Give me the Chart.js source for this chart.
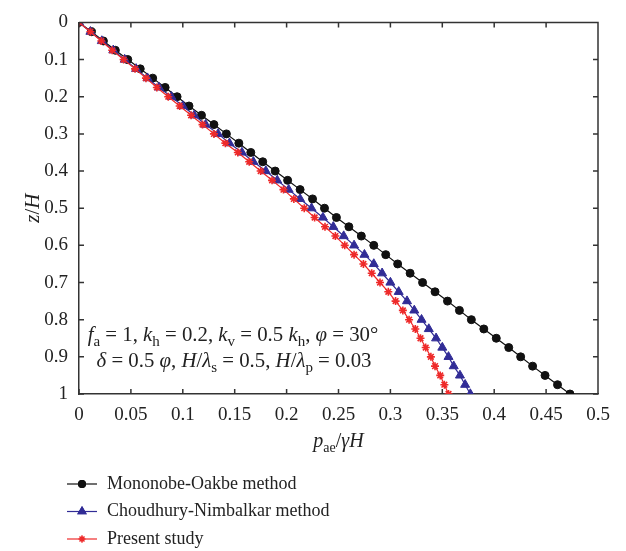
<!DOCTYPE html>
<html>
<head>
<meta charset="utf-8">
<script src="https://cdn.jsdelivr.net/npm/chart.js@4.4.0/dist/chart.umd.min.js"></script>
<style>
  html, body { margin: 0; padding: 0; background: #fff; }
</style>
</head>
<body>
<canvas id="chart" width="626" height="551"></canvas>
<script>
// depth ratio z/H
const depths = [0, 0.025, 0.05, 0.075, 0.1, 0.125, 0.15, 0.175, 0.2, 0.225,
  0.25, 0.275, 0.3, 0.325, 0.35, 0.375, 0.4, 0.425, 0.45, 0.475,
  0.5, 0.525, 0.55, 0.575, 0.6, 0.625, 0.65, 0.675, 0.7, 0.725,
  0.75, 0.775, 0.8, 0.825, 0.85, 0.875, 0.9, 0.925, 0.95, 0.975, 1];

// p_ae / gamma H
const mononobeOkabe = [0, 0.012, 0.0235, 0.035, 0.047, 0.059, 0.071, 0.083, 0.0945, 0.106,
  0.118, 0.130, 0.142, 0.154, 0.1655, 0.177, 0.189, 0.201, 0.213, 0.225,
  0.2365, 0.248, 0.260, 0.272, 0.284, 0.2955, 0.307, 0.319, 0.331, 0.343,
  0.355, 0.3665, 0.378, 0.390, 0.402, 0.414, 0.4255, 0.437, 0.449, 0.461, 0.473];
const choudhuryNimbalkar = [0, 0.011, 0.022, 0.033, 0.044, 0.055, 0.066, 0.077, 0.089, 0.100,
  0.111, 0.122, 0.134, 0.145, 0.157, 0.168, 0.180, 0.191, 0.202, 0.213,
  0.224, 0.235, 0.245, 0.255, 0.265, 0.275, 0.284, 0.292, 0.300, 0.308,
  0.316, 0.323, 0.330, 0.337, 0.344, 0.350, 0.356, 0.361, 0.367, 0.372, 0.377];
const presentStudy = [0, 0.011, 0.0215, 0.032, 0.043, 0.054, 0.0645, 0.075, 0.086, 0.097,
  0.108, 0.119, 0.130, 0.141, 0.153, 0.164, 0.175, 0.186, 0.197, 0.207,
  0.217, 0.227, 0.237, 0.247, 0.256, 0.265, 0.274, 0.282, 0.290, 0.298,
  0.305, 0.312, 0.318, 0.324, 0.329, 0.334, 0.339, 0.343, 0.348, 0.352, 0.356];

const xTicks = [0, 0.05, 0.1, 0.15, 0.2, 0.25, 0.3, 0.35, 0.4, 0.45, 0.5];
const yTicks = [0, 0.1, 0.2, 0.3, 0.4, 0.5, 0.6, 0.7, 0.8, 0.9, 1];
const seriesNames = ['Mononobe-Oakbe method', 'Choudhury-Nimbalkar method', 'Present study'];

const FONT = '"Liberation Serif", "DejaVu Serif", serif';
const AXIS = '#333';

function series(vals, name, color, style, radius, order) {
  return {
    label: name,
    data: depths.map((z, i) => ({ x: vals[i], y: z })),
    borderColor: color,
    backgroundColor: color,
    borderWidth: 1.2,
    pointStyle: style,
    pointRadius: radius,
    pointBorderWidth: style === 'star' ? 1.6 : 1,
    pointBorderColor: color,
    pointBackgroundColor: color,
    tension: 0,
    order: order
  };
}

const datasets = [
  series(mononobeOkabe, seriesNames[0], '#111111', 'circle', 4, 3),
  series(choudhuryNimbalkar, seriesNames[1], '#312c96', 'triangle', 5.2, 2),
  series(presentStudy, seriesNames[2], '#ee2a2a', 'star', 4, 1)
];

// text with italic/subscript pieces: [text, 'n'|'i'|'s']
function fontFor(kind, size) {
  if (kind === 'i') return 'italic ' + size + 'px ' + FONT;
  if (kind === 's') return Math.round(size * 0.72) + 'px ' + FONT;
  return size + 'px ' + FONT;
}
function richWidth(ctx, parts, size) {
  let w = 0;
  parts.forEach(p => {
    ctx.font = fontFor(p[1], size);
    w += ctx.measureText(p[0]).width;
  });
  return w;
}
function drawRich(ctx, parts, cx, cy, size) {
  let x = cx - richWidth(ctx, parts, size) / 2;
  ctx.textBaseline = 'middle';
  ctx.textAlign = 'left';
  parts.forEach(p => {
    ctx.font = fontFor(p[1], size);
    ctx.fillText(p[0], x, p[1] === 's' ? cy + size * 0.3 : cy);
    x += ctx.measureText(p[0]).width;
  });
}

const framePlugin = {
  id: 'frame',
  afterDraw(chart) {
    const ctx = chart.ctx;
    const a = chart.chartArea;
    const xs = chart.scales.x, ys = chart.scales.y;
    ctx.save();
    ctx.strokeStyle = AXIS;
    ctx.lineWidth = 1.5;
    ctx.beginPath();
    ctx.moveTo(a.left, a.top); ctx.lineTo(a.right, a.top); ctx.lineTo(a.right, a.bottom);
    xTicks.forEach(v => {
      const px = xs.getPixelForValue(v);
      ctx.moveTo(px, a.bottom); ctx.lineTo(px, a.bottom - 5);
      ctx.moveTo(px, a.top); ctx.lineTo(px, a.top + 5);
    });
    yTicks.forEach(v => {
      const py = ys.getPixelForValue(v);
      ctx.moveTo(a.left, py); ctx.lineTo(a.left + 5, py);
      ctx.moveTo(a.right, py); ctx.lineTo(a.right - 5, py);
    });
    ctx.stroke();

    ctx.fillStyle = '#222';
    // parameter note
    drawRich(ctx, [['f', 'i'], ['a', 's'], [' = 1, ', 'n'], ['k', 'i'], ['h', 's'], [' = 0.2, ', 'n'],
      ['k', 'i'], ['v', 's'], [' = 0.5 ', 'n'], ['k', 'i'], ['h', 's'], [', ', 'n'], ['φ', 'i'], [' = 30°', 'n']],
      233, 336, 20.8);
    drawRich(ctx, [['δ', 'i'], [' = 0.5 ', 'n'], ['φ', 'i'], [', ', 'n'], ['H', 'i'], ['/', 'n'], ['λ', 'i'], ['s', 's'],
      [' = 0.5, ', 'n'], ['H', 'i'], ['/', 'n'], ['λ', 'i'], ['p', 's'], [' = 0.03', 'n']],
      234, 362, 20.8);

    // axis titles
    drawRich(ctx, [['p', 'i'], ['ae', 's'], ['/', 'n'], ['γH', 'i']], (a.left + a.right) / 2, 442, 20);
    ctx.save();
    ctx.translate(33, (a.top + a.bottom) / 2);
    ctx.rotate(-Math.PI / 2);
    drawRich(ctx, [['z', 'i'], ['/', 'n'], ['H', 'i']], 0, 0, 21);
    ctx.restore();

    // legend
    datasets.forEach((ds, i) => {
      const y = 484 + i * 27.5;
      ctx.strokeStyle = ds.borderColor;
      ctx.lineWidth = 1.2;
      ctx.beginPath(); ctx.moveTo(67, y); ctx.lineTo(97, y); ctx.stroke();
      Chart.helpers.drawPoint(ctx, {
        pointStyle: ds.pointStyle, radius: ds.pointRadius * 0.85, rotation: 0,
        borderWidth: ds.pointBorderWidth
      }, 82, y);
      ctx.fillStyle = ds.borderColor;
      ctx.fill();
      ctx.stroke();
      ctx.fillStyle = '#222';
      ctx.font = '18px ' + FONT;
      ctx.textAlign = 'left';
      ctx.textBaseline = 'middle';
      ctx.fillText(ds.label, 107, y);
    });
    ctx.restore();
  }
};

const fmt = v => String(+(+v).toFixed(2));

new Chart(document.getElementById('chart').getContext('2d'), {
  type: 'line',
  data: { datasets: datasets },
  options: {
    responsive: false,
    animation: false,
    layout: { padding: { top: 17, right: 28, left: 0, bottom: 0 } },
    plugins: { legend: { display: false }, tooltip: { enabled: false } },
    scales: {
      x: {
        type: 'linear', min: 0, max: 0.5,
        afterBuildTicks: s => { s.ticks = xTicks.map(v => ({ value: v })); },
        afterFit: s => { s.height = 157; },
        grid: { display: false, drawTicks: false },
        border: { display: true, color: AXIS, width: 1.5 },
        ticks: { color: '#222', padding: 10, maxRotation: 0, font: { family: FONT, size: 19 }, callback: fmt }
      },
      y: {
        type: 'linear', min: 0, max: 1, reverse: true,
        afterBuildTicks: s => { s.ticks = yTicks.map(v => ({ value: v })); },
        afterFit: s => { s.width = 79; },
        grid: { display: false, drawTicks: false },
        border: { display: true, color: AXIS, width: 1.5 },
        ticks: { color: '#222', padding: 11, font: { family: FONT, size: 19 }, callback: fmt }
      }
    }
  },
  plugins: [framePlugin]
});
</script>
</body>
</html>
